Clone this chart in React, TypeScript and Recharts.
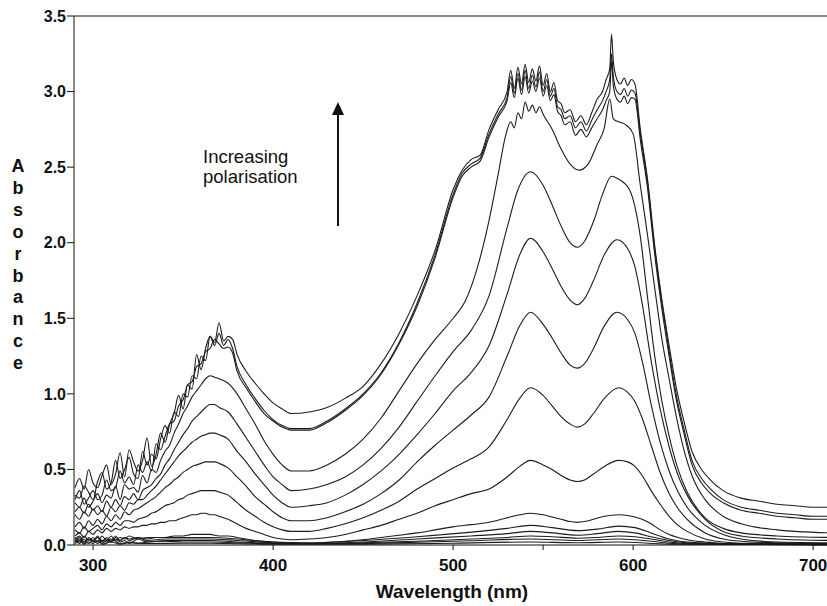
import React from 'react'
import { LineChart, Line, XAxis, YAxis, ReferenceLine } from 'recharts'

type Pt = [number, number]

// tick positions
const xTicks = [300, 400, 500, 550, 600, 700]
const yTicks = [0, 0.5, 1, 1.5, 2, 2.5, 3, 3.5]

// spectra, [wavelength nm, absorbance], top curve first
const curve1: Pt[] = [
  [290, .38], [292.5, .44], [295, .37], [297.5, .50], [300, .41], [302.5, .38], [305, .46], [307.5, .53], [310, .40], [312.5, .47],
  [315, .61], [317.5, .45], [320, .63], [322.5, .55], [325, .49], [327.5, .56], [330, .71], [332.5, .52], [335, .60], [337.5, .74],
  [340, .68], [342.5, .80], [345, .87], [347.5, .99], [350, .90], [352.5, 1.06], [355, 1.03], [357.5, 1.26], [360, 1.16], [362.5, 1.30],
  [365, 1.38], [367.5, 1.34], [370, 1.47], [372.5, 1.35], [375, 1.38], [377.5, 1.36], [380, 1.26], [385, 1.15], [390, 1.07], [395, 1.00],
  [400, .94], [405, .90], [410, .87], [420, .88], [430, .91], [440, .97], [450, 1.05], [460, 1.20], [470, 1.40], [480, 1.65],
  [490, 1.95], [500, 2.35], [505, 2.48], [510, 2.55], [515, 2.58], [520, 2.75], [525, 2.88], [530, 3.00], [532, 3.14], [534, 3.02],
  [536, 3.16], [538, 3.05], [540, 3.18], [542, 3.06], [544, 3.15], [546, 3.07], [548, 3.17], [550, 3.04], [552, 3.12], [554, 3.00],
  [556, 3.06], [558, 2.94], [560, 2.92], [562, 2.86], [565, 2.88], [568, 2.80], [571, 2.84], [574, 2.78], [577, 2.86], [580, 2.95],
  [583, 3.00], [585, 3.08], [587, 3.15], [588, 3.38], [589, 3.20], [591, 3.08], [593, 3.05], [595, 3.09], [597, 3.04], [599, 3.08],
  [601, 3.05], [604, 2.75], [608, 2.42], [612, 1.98], [616, 1.62], [620, 1.32], [624, 1.04], [628, .83], [633, .61], [638, .50],
  [643, .43], [650, .36], [660, .31], [670, .29], [680, .27], [690, .26], [700, .25], [710, .25],
]
const curve2: Pt[] = [
  [290, .33], [292.5, .31], [295, .39], [297.5, .35], [300, .30], [302.5, .42], [305, .48], [307.5, .37], [310, .41], [312.5, .56],
  [315, .44], [317.5, .50], [320, .58], [322.5, .47], [325, .44], [327.5, .62], [330, .53], [332.5, .60], [335, .57], [337.5, .70],
  [340, .79], [342.5, .74], [345, .88], [347.5, .85], [350, 1.00], [352.5, .98], [355, 1.12], [357.5, 1.10], [360, 1.25], [362.5, 1.22],
  [365, 1.38], [367.5, 1.32], [370, 1.40], [372.5, 1.32], [375, 1.36], [377.5, 1.30], [380, 1.18], [385, 1.06], [390, .97], [395, .89],
  [400, .83], [405, .79], [410, .77], [420, .77], [430, .82], [440, .90], [450, 1.00], [460, 1.14], [470, 1.34], [480, 1.60],
  [490, 1.92], [500, 2.32], [505, 2.46], [510, 2.52], [515, 2.56], [520, 2.72], [525, 2.85], [530, 2.96], [532, 3.10], [534, 2.99],
  [536, 3.12], [538, 3.01], [540, 3.14], [542, 3.02], [544, 3.11], [546, 3.03], [548, 3.13], [550, 3.00], [552, 3.08], [554, 2.97],
  [556, 3.02], [558, 2.90], [560, 2.88], [562, 2.82], [565, 2.84], [568, 2.76], [571, 2.80], [574, 2.74], [577, 2.81], [580, 2.88],
  [583, 2.94], [585, 3.00], [587, 3.08], [588, 3.25], [589, 3.10], [591, 3.00], [593, 2.98], [595, 3.02], [597, 2.97], [599, 3.01],
  [601, 2.99], [604, 2.72], [608, 2.40], [612, 1.96], [616, 1.60], [620, 1.28], [624, .99], [628, .78], [633, .55], [638, .44],
  [643, .37], [650, .30], [660, .25], [670, .23], [680, .21], [690, .20], [700, .19], [710, .19],
]
const curve3: Pt[] = [
  [290, .30], [292.5, .36], [295, .27], [297.5, .31], [300, .36], [302.5, .30], [305, .33], [307.5, .43], [310, .36], [312.5, .38],
  [315, .49], [317.5, .41], [320, .45], [322.5, .40], [325, .53], [327.5, .48], [330, .55], [332.5, .49], [335, .67], [337.5, .63],
  [340, .72], [342.5, .80], [345, .82], [347.5, .92], [350, .96], [352.5, 1.06], [355, 1.08], [357.5, 1.18], [360, 1.20], [362.5, 1.28],
  [365, 1.30], [367.5, 1.36], [370, 1.33], [372.5, 1.30], [375, 1.31], [377.5, 1.27], [380, 1.15], [385, 1.04], [390, .95], [395, .87],
  [400, .82], [405, .78], [410, .76], [420, .76], [430, .81], [440, .89], [450, .99], [460, 1.13], [470, 1.33], [480, 1.58],
  [490, 1.90], [500, 2.30], [505, 2.44], [510, 2.50], [515, 2.54], [520, 2.70], [525, 2.83], [530, 2.94], [532, 3.06], [534, 2.96],
  [536, 3.09], [538, 2.98], [540, 3.10], [542, 2.99], [544, 3.07], [546, 3.00], [548, 3.09], [550, 2.97], [552, 3.04], [554, 2.94],
  [556, 2.98], [558, 2.87], [560, 2.84], [562, 2.78], [565, 2.80], [568, 2.71], [571, 2.75], [574, 2.70], [577, 2.76], [580, 2.82],
  [583, 2.88], [585, 2.94], [587, 3.00], [588, 3.20], [589, 3.04], [591, 2.95], [593, 2.93], [595, 2.97], [597, 2.92], [599, 2.96],
  [601, 2.95], [604, 2.68], [608, 2.36], [612, 1.92], [616, 1.56], [620, 1.25], [624, .96], [628, .75], [633, .52], [638, .41],
  [643, .34], [650, .28], [660, .23], [670, .21], [680, .19], [690, .18], [700, .17], [710, .17],
]
const curve4: Pt[] = [
  [290, .28], [292.5, .25], [295, .31], [297.5, .25], [300, .29], [302.5, .34], [305, .28], [307.5, .33], [310, .31], [312.5, .39],
  [315, .30], [317.5, .40], [320, .37], [322.5, .38], [325, .35], [327.5, .46], [330, .41], [332.5, .50], [335, .48], [337.5, .56],
  [340, .62], [342.5, .66], [345, .74], [347.5, .80], [350, .87], [352.5, .92], [355, .98], [357.5, 1.02], [360, 1.06], [362.5, 1.10],
  [365, 1.12], [367.5, 1.11], [370, 1.10], [375, 1.07], [380, 1.00], [385, .90], [390, .80], [395, .69], [400, .60], [405, .53],
  [410, .49], [420, .49], [430, .53], [440, .60], [450, .70], [460, .84], [470, 1.02], [480, 1.20], [490, 1.36], [500, 1.50],
  [507, 1.62], [515, 1.90], [520, 2.15], [525, 2.45], [529, 2.70], [532, 2.80], [534, 2.76], [536, 2.86], [538, 2.82], [540, 2.93],
  [542, 2.87], [544, 2.91], [546, 2.86], [548, 2.90], [550, 2.85], [555, 2.75], [560, 2.62], [565, 2.52], [570, 2.48], [575, 2.52],
  [580, 2.65], [584, 2.76], [587, 2.95], [589, 2.82], [592, 2.80], [596, 2.78], [600, 2.72], [604, 2.38], [608, 2.05], [612, 1.70],
  [616, 1.36], [620, 1.10], [624, .85], [628, .64], [633, .45], [640, .30], [650, .19], [660, .14], [680, .10], [710, .08],
]
const curve5: Pt[] = [
  [290, .22], [292.5, .25], [295, .21], [297.5, .27], [300, .23], [302.5, .26], [305, .22], [307.5, .29], [310, .25], [312.5, .30],
  [315, .26], [317.5, .32], [320, .30], [322.5, .34], [325, .30], [327.5, .36], [330, .38], [332.5, .40], [335, .44], [337.5, .47],
  [340, .53], [342.5, .57], [345, .63], [347.5, .68], [350, .73], [352.5, .77], [355, .82], [357.5, .85], [360, .88], [362.5, .91],
  [365, .93], [367.5, .93], [370, .91], [375, .88], [380, .80], [385, .71], [390, .62], [395, .53], [400, .45], [405, .40],
  [410, .36], [420, .37], [430, .40], [440, .45], [450, .53], [460, .64], [470, .78], [480, .95], [490, 1.12], [500, 1.28],
  [510, 1.42], [520, 1.65], [530, 2.10], [536, 2.35], [543, 2.47], [550, 2.38], [555, 2.25], [560, 2.11], [565, 2.00], [569, 1.97],
  [573, 2.01], [578, 2.14], [583, 2.32], [588, 2.44], [592, 2.42], [598, 2.35], [604, 2.04], [608, 1.64], [612, 1.25], [616, .95],
  [620, .72], [625, .50], [630, .35], [640, .18], [650, .11], [660, .08], [680, .06], [710, .05],
]
const curve6: Pt[] = [
  [290, .20], [292.5, .17], [295, .22], [297.5, .19], [300, .24], [302.5, .20], [305, .23], [307.5, .19], [310, .25], [312.5, .22],
  [315, .26], [317.5, .23], [320, .28], [322.5, .27], [325, .30], [327.5, .30], [330, .33], [332.5, .36], [335, .39], [337.5, .43],
  [340, .47], [342.5, .51], [345, .55], [347.5, .59], [350, .62], [352.5, .65], [355, .68], [357.5, .70], [360, .72], [362.5, .73],
  [365, .74], [367.5, .74], [370, .73], [375, .70], [380, .62], [385, .55], [390, .47], [395, .40], [400, .33], [405, .28],
  [410, .25], [420, .26], [430, .28], [440, .33], [450, .40], [460, .49], [470, .60], [480, .73], [490, .87], [500, 1.02],
  [510, 1.14], [520, 1.32], [530, 1.66], [537, 1.92], [543, 2.03], [550, 1.94], [555, 1.83], [560, 1.71], [565, 1.62], [569, 1.59],
  [573, 1.63], [578, 1.75], [584, 1.92], [591, 2.02], [597, 1.96], [601, 1.84], [605, 1.60], [610, 1.22], [615, .90], [620, .65],
  [625, .46], [630, .33], [640, .17], [650, .09], [660, .06], [680, .04], [710, .03],
]
const curve7: Pt[] = [
  [290, .12], [292.5, .15], [295, .11], [297.5, .16], [300, .13], [302.5, .17], [305, .14], [307.5, .19], [310, .16], [312.5, .20],
  [315, .17], [317.5, .22], [320, .20], [322.5, .23], [325, .24], [327.5, .26], [330, .28], [332.5, .30], [335, .32], [337.5, .35],
  [340, .38], [342.5, .40], [345, .43], [347.5, .45], [350, .48], [352.5, .50], [355, .52], [357.5, .53], [360, .54], [362.5, .55],
  [365, .55], [367.5, .55], [370, .54], [375, .51], [380, .45], [385, .39], [390, .32], [395, .27], [400, .22], [405, .18],
  [410, .16], [420, .16], [430, .18], [440, .22], [450, .27], [460, .34], [470, .43], [480, .55], [490, .66], [500, .76],
  [510, .86], [520, .98], [530, 1.25], [537, 1.45], [543, 1.54], [550, 1.46], [555, 1.37], [560, 1.27], [565, 1.19], [569, 1.17],
  [573, 1.20], [578, 1.30], [584, 1.45], [591, 1.54], [597, 1.49], [601, 1.40], [605, 1.22], [610, .93], [615, .68], [620, .49],
  [625, .35], [630, .25], [640, .13], [650, .07], [660, .04], [680, .02], [710, .015],
]
const curve8: Pt[] = [
  [290, .10], [292.5, .08], [295, .12], [297.5, .09], [300, .11], [302.5, .13], [305, .10], [307.5, .14], [310, .12], [312.5, .15],
  [315, .13], [317.5, .16], [320, .16], [322.5, .15], [325, .17], [327.5, .18], [330, .19], [332.5, .21], [335, .22], [337.5, .24],
  [340, .26], [342.5, .27], [345, .28], [347.5, .30], [350, .31], [352.5, .33], [355, .34], [357.5, .35], [360, .36], [362.5, .36],
  [365, .36], [367.5, .36], [370, .35], [375, .33], [380, .28], [385, .23], [390, .19], [395, .15], [400, .12], [405, .10],
  [410, .09], [420, .09], [430, .11], [440, .14], [450, .18], [460, .23], [470, .29], [480, .37], [490, .44], [500, .51],
  [510, .57], [520, .65], [530, .83], [537, .97], [543, 1.04], [550, .99], [555, .92], [560, .85], [565, .80], [569, .78],
  [573, .80], [578, .87], [584, .97], [592, 1.04], [597, 1.01], [601, .95], [605, .84], [610, .66], [615, .48], [620, .34],
  [625, .24], [630, .17], [640, .08], [650, .04], [660, .025], [680, .015], [710, .01],
]
const curve9: Pt[] = [
  [290, .06], [292.5, .08], [295, .05], [297.5, .09], [300, .07], [302.5, .10], [305, .08], [307.5, .11], [310, .09], [312.5, .11],
  [315, .10], [317.5, .12], [320, .11], [322.5, .12], [325, .12], [327.5, .13], [330, .13], [332.5, .14], [335, .14], [337.5, .15],
  [340, .15], [342.5, .16], [345, .16], [347.5, .17], [350, .18], [352.5, .19], [355, .20], [357.5, .20], [360, .21], [362.5, .21],
  [365, .20], [367.5, .20], [370, .19], [375, .17], [380, .14], [385, .11], [390, .09], [395, .07], [400, .05], [405, .04],
  [410, .035], [420, .04], [430, .05], [440, .07], [450, .10], [460, .13], [470, .17], [480, .21], [490, .26], [500, .30],
  [510, .34], [520, .37], [530, .45], [537, .52], [543, .56], [550, .53], [555, .50], [560, .46], [565, .43], [569, .42],
  [573, .43], [578, .47], [584, .52], [592, .56], [597, .55], [601, .52], [605, .46], [610, .36], [615, .27], [620, .19],
  [625, .13], [630, .09], [640, .04], [650, .02], [660, .012], [680, .01], [710, .01],
]
const curve10: Pt[] = [
  [290, .03], [292.5, .05], [295, .02], [297.5, .04], [300, .03], [302.5, .05], [305, .03], [307.5, .04], [310, .02], [312.5, .05],
  [315, .03], [317.5, .05], [320, .04], [325, .05], [330, .04], [335, .05], [340, .05], [345, .06], [350, .06], [355, .07],
  [360, .07], [365, .07], [370, .06], [375, .06], [380, .05], [390, .03], [400, .02], [410, .01], [420, .012], [430, .017],
  [440, .025], [450, .035], [460, .05], [470, .065], [480, .08], [490, .10], [500, .12], [510, .135], [520, .15], [530, .18],
  [537, .20], [543, .21], [550, .20], [555, .185], [560, .17], [565, .155], [569, .15], [573, .155], [578, .17], [584, .19],
  [592, .20], [597, .195], [601, .185], [605, .17], [610, .14], [615, .10], [620, .07], [625, .05], [630, .035], [640, .02],
  [650, .01], [660, .008], [710, .005],
]
const low1: Pt[] = [
  [290, .05], [292.5, .02], [295, .06], [297.5, .03], [300, .05], [302.5, .02], [305, .06], [307.5, .03], [310, .06], [312.5, .03],
  [315, .05], [317.5, .04], [320, .06], [325, .04], [330, .05], [340, .05], [350, .05], [365, .05], [380, .04], [400, .02],
  [420, .015], [450, .03], [480, .055], [510, .085], [530, .11], [543, .13], [555, .115], [569, .095], [580, .105], [592, .125],
  [601, .115], [610, .08], [620, .04], [630, .02], [650, .01], [710, .005],
]
const low2: Pt[] = [
  [290, .04], [292.5, .06], [295, .02], [297.5, .05], [300, .03], [302.5, .06], [305, .02], [307.5, .05], [310, .03], [312.5, .06],
  [315, .03], [317.5, .05], [320, .03], [325, .05], [330, .03], [340, .04], [350, .04], [365, .04], [380, .03], [400, .015],
  [420, .01], [450, .02], [480, .04], [510, .06], [530, .075], [543, .09], [555, .08], [569, .065], [580, .075], [592, .09],
  [601, .08], [610, .055], [620, .03], [630, .015], [650, .008], [710, .004],
]
const low3: Pt[] = [
  [290, .02], [292.5, .04], [295, .01], [297.5, .04], [300, .02], [302.5, .05], [305, .01], [307.5, .03], [310, .02], [312.5, .04],
  [315, .02], [317.5, .03], [320, .01], [325, .04], [330, .02], [340, .03], [350, .03], [365, .03], [380, .02], [400, .01],
  [420, .008], [450, .015], [480, .025], [510, .04], [530, .05], [543, .06], [555, .055], [569, .045], [580, .05], [592, .06],
  [601, .055], [610, .04], [620, .02], [630, .01], [710, .003],
]
const low4: Pt[] = [
  [290, .03], [292.5, .01], [295, .04], [297.5, .01], [300, .03], [302.5, .01], [305, .03], [307.5, .02], [310, .04], [315, .01],
  [320, .02], [325, .01], [330, .02], [340, .025], [350, .02], [365, .02], [380, .015], [400, .008], [450, .01], [480, .018],
  [510, .028], [543, .04], [569, .03], [592, .04], [610, .025], [620, .012], [640, .005], [710, .002],
]
const low5: Pt[] = [
  [290, .01], [292.5, .03], [295, .005], [297.5, .02], [300, .01], [302.5, .03], [305, .005], [310, .02], [315, .005], [320, .015],
  [330, .01], [350, .012], [365, .012], [400, .005], [450, .006], [500, .012], [543, .02], [569, .015], [592, .02], [620, .006],
  [710, .001],
]

const curves = [curve1, curve2, curve3, curve4, curve5, curve6, curve7, curve8, curve9, curve10, low1, low2, low3, low4, low5]

const font = '"Liberation Sans", Arial, sans-serif'
const yLabel = 'Absorbance'.split('')

export default function App() {
  return (
    <div style={{ position: 'fixed', left: 0, top: 0, width: 827, height: 606, background: '#fff' }}>
      <LineChart width={827} height={606} margin={{ top: 16, right: 0, bottom: 0, left: 0 }}>
        <XAxis
          type="number"
          dataKey="nm"
          domain={[289.4, 707.7]}
          allowDataOverflow
          ticks={xTicks}
          tickFormatter={(v) => (v % 100 === 0 ? String(v) : '')}
          height={61}
          tickSize={5}
          tickMargin={9}
          stroke="#111"
          tick={{ fill: '#111', fontSize: 17, fontWeight: 700, fontFamily: font }}
        />
        <YAxis
          type="number"
          domain={[0, 3.5]}
          ticks={yTicks}
          width={74}
          tickSize={7}
          tickMargin={1}
          tickFormatter={(v) => v.toFixed(1)}
          stroke="#111"
          tick={{ fill: '#111', fontSize: 16, fontWeight: 700, fontFamily: font }}
        />
        <ReferenceLine y={3.5} stroke="#111" strokeWidth={1} />
        {curves.map((c, i) => (
          <Line
            key={i}
            data={c.map(([nm, a]) => ({ nm, a }))}
            dataKey="a"
            type="monotone"
            dot={false}
            stroke="#1c1c1c"
            strokeWidth={1.1}
            isAnimationActive={false}
          />
        ))}
      </LineChart>
      <svg width={827} height={606} style={{ position: 'absolute', left: 0, top: 0, pointerEvents: 'none' }}>
        <text x={18} y={172} textAnchor="middle" fontFamily={font} fontWeight={700} fontSize={18} fill="#111">
          {yLabel.map((ch, i) => (
            <tspan key={i} x={18} dy={i === 0 ? 0 : 21.9}>{ch}</tspan>
          ))}
        </text>
        <text x={452} y={598} textAnchor="middle" fontFamily={font} fontWeight={700} fontSize={19} fill="#111">
          Wavelength (nm)
        </text>
        <text x={203} y={163} fontFamily={font} fontSize={18.5} fill="#111">Increasing</text>
        <text x={203} y={183} fontFamily={font} fontSize={18.5} fill="#111">polarisation</text>
        <line x1={338} y1={226} x2={338} y2={112} stroke="#111" strokeWidth={2} />
        <polygon points="338,102 332,115 344,115" fill="#111" />
      </svg>
    </div>
  )
}
